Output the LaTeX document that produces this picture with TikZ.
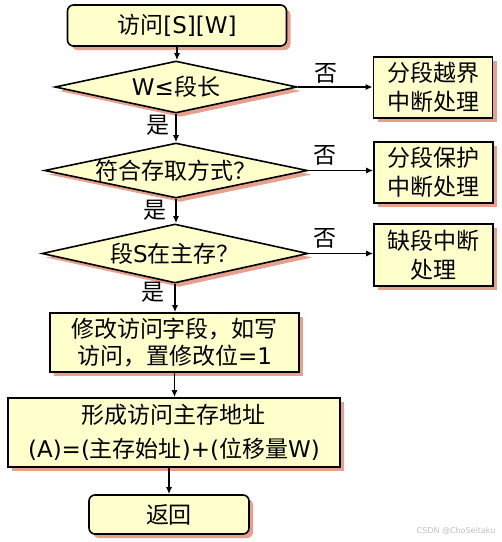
\documentclass[tikz,border=0pt]{standalone}
\usepackage{fontspec}
\setmainfont{DejaVu Sans}
\newfontfamily\cjk{Noto Sans CJK SC}
\usetikzlibrary{shapes.geometric,shadows,arrows.meta}
\definecolor{boxfill}{HTML}{FFFFCC}
\definecolor{shadowc}{HTML}{E8A08C}
\newcommand{\zh}[1]{{\cjk #1}}
\tikzset{
  base/.style={draw=black, line width=1.6pt, fill=boxfill,
    drop shadow={shadow xshift=4pt, shadow yshift=-4pt, fill=shadowc, opacity=1},
    inner sep=0pt, align=center},
  rbox/.style={base, rectangle, rounded corners=6pt},
  sbox/.style={base, rectangle},
  dia/.style={base, diamond},
  txt/.style={font=\fontsize{23}{29}\selectfont},
  conn/.style={line width=1.6pt, -{Latex[length=7pt,width=6pt]}},
  lab/.style={font=\fontsize{23}{23}\selectfont\cjk, inner sep=0pt},
  wmark/.style={font=\fontsize{8}{8}\selectfont, text=black!25, inner sep=0pt}
}
\begin{document}
\begin{tikzpicture}[x=1pt,y=-1pt]
\useasboundingbox (0,0) rectangle (502,542);
% main column
\node[rbox, txt, minimum width=219pt, minimum height=41pt] (top) at (177,25.5) {\zh{访问}[S][W]};
\node[dia, minimum width=242pt, minimum height=52pt,
  label={[txt]center:W≤\zh{段长}}] (d1) at (176,87) {};
\node[dia, minimum width=263pt, minimum height=55pt,
  label={[txt]center:\zh{符合存取方式？}}] (d2) at (176,170.5) {};
\node[dia, minimum width=266pt, minimum height=59pt,
  label={[txt]center:\zh{段}S\zh{在主存？}}] (d3) at (175,253.5) {};
\node[sbox, minimum width=249pt, minimum height=59pt,
  font=\fontsize{23}{27}\selectfont] (b4) at (174.5,342.5) {\zh{修改访问字段，如写}\\\zh{访问，置修改位}=1};
\node[sbox, minimum width=332pt, minimum height=69pt,
  font=\fontsize{23}{34}\selectfont] (b5) at (174,432.5) {\zh{形成访问主存地址}\\(A)=(\zh{主存始址})+(\zh{位移量}W)};
\node[rbox, txt, minimum width=160pt, minimum height=39pt] (b6) at (169,514.5) {\zh{返回}};
% right column
\node[sbox, txt, minimum width=119pt, minimum height=61pt] (r1) at (433,87.5) {\zh{分段越界}\\\zh{中断处理}};
\node[sbox, txt, minimum width=119pt, minimum height=61pt] (r2) at (433.5,172.5) {\zh{分段保护}\\\zh{中断处理}};
\node[sbox, txt, minimum width=119pt, minimum height=62pt] (r3) at (433.5,255) {\zh{缺段中断}\\\zh{处理}};
% connectors
\draw[conn] (top.south) -- (top.south |- d1.north);
\draw[conn] (d1.south) -- (d1.south |- d2.north);
\draw[conn] (d2.south) -- (d2.south |- d3.north);
\draw[conn] (d3.south) -- (d3.south |- b4.north);
\draw[conn] (b4.south) -- (b4.south |- b5.north);
\draw[conn] (b5.south -| b6.north) -- (b6.north);
\draw[conn] (d1.east) -- (d1.east -| r1.west);
\draw[conn] (d2.east) -- (d2.east -| r2.west);
\draw[conn] (d3.east) -- (d3.east -| r3.west);
% labels
\node[lab] (n1) at (326,73) {否};
\node[lab] (n2) at (325,155) {否};
\node[lab] (n3) at (325,238) {否};
\node[lab] (y1) at (158,125) {是};
\node[lab] (y2) at (155,210) {是};
\node[lab] (y3) at (153,292) {是};
\node[wmark] (wm) at (456,531) {CSDN @ChoSeitaku};
\end{tikzpicture}
\end{document}
